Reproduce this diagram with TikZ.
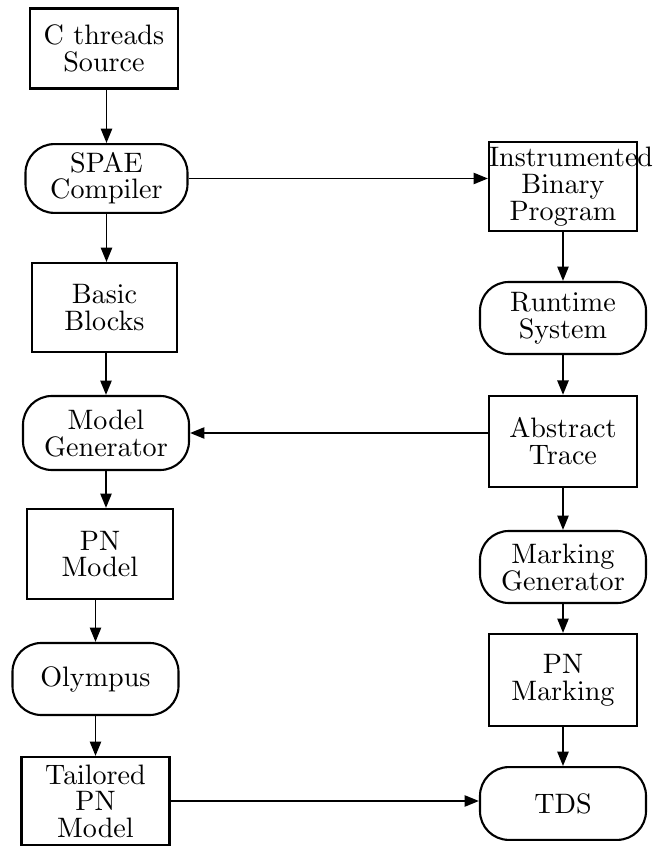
\documentclass[tikz,border=0pt]{standalone}
\usetikzlibrary{arrows.meta}
\font\flowfont=cmr10 at 20pt

\begin{document}
\begin{tikzpicture}[scale=0.25,
		>={Triangle[length=3.6mm,width=2.8mm]},
		every node/.style={font={\flowfont\baselineskip=19pt}, align=center, inner xsep=0pt, inner ysep=0pt},
		stage/.style={draw, line width=1.5pt, text width=3.7cm, minimum height=2.25cm},
		tool/.style={draw, line width=1.5pt, rounded corners=0.72cm, text width=4.15cm, minimum height=1.8cm},
		flow/.style={->, line width=1.4pt}]
		\useasboundingbox (0,0) rectangle (66.2,84.7);
		\node[stage, minimum height=2.0cm] (cthreads) at (10.4,79.85) {C threads\\Source};
		\node[tool, text width=4.05cm, minimum height=1.72cm] (spae) at (10.65,66.85) {SPAE\\Compiler};
		\node[stage, text width=3.62cm, minimum height=2.22cm] (blocks) at (10.45,53.95) {Basic\\Blocks};
		\node[tool, minimum height=1.85cm] (modelgen) at (10.6,41.4) {Model\\Generator};
		\node[stage, text width=3.65cm] (pnmodel) at (10.0,29.3) {PN\\Model};
		\node[tool] (olympus) at (9.55,16.8) {Olympus};
		\node[stage, minimum height=2.2cm] (tailored) at (9.55,4.6) {Tailored\\PN\\Model};
		\node[stage, minimum height=2.22cm] (instr) at (56.3,66.05) {Instrumented\\Binary\\Program};
		\node[tool] (runtime) at (56.3,52.9) {Runtime\\System};
		\node[stage, minimum height=2.28cm] (trace) at (56.3,40.55) {Abstract\\Trace};
		\node[tool] (markgen) at (56.3,28.0) {Marking\\Generator};
		\node[stage, minimum height=2.3cm] (pnmark) at (56.3,16.7) {PN\\Marking};
		\node[tool, minimum height=1.82cm] (tds) at (56.3,4.35) {TDS};
		\draw[flow] (cthreads.south -| spae) -- (spae.north);
		\draw[flow] (spae.south) -- (spae.south |- blocks.north);
		\draw[flow] (blocks.south -| modelgen) -- (modelgen.north);
		\draw[flow] (modelgen.south) -- (modelgen.south |- pnmodel.north);
		\draw[flow] (pnmodel.south -| olympus) -- (olympus.north);
		\draw[flow] (olympus) -- (tailored);
		\draw[flow] (spae) -- (spae -| instr.west);
		\draw[flow] (instr) -- (runtime);
		\draw[flow] (runtime) -- (trace);
		\draw[flow] (trace.west |- modelgen) -- (modelgen);
		\draw[flow] (trace) -- (markgen);
		\draw[flow] (markgen) -- (pnmark);
		\draw[flow] (pnmark) -- (tds);
		\draw[flow] (tailored) -- (tailored -| tds.west);
	\end{tikzpicture}
\end{document}
